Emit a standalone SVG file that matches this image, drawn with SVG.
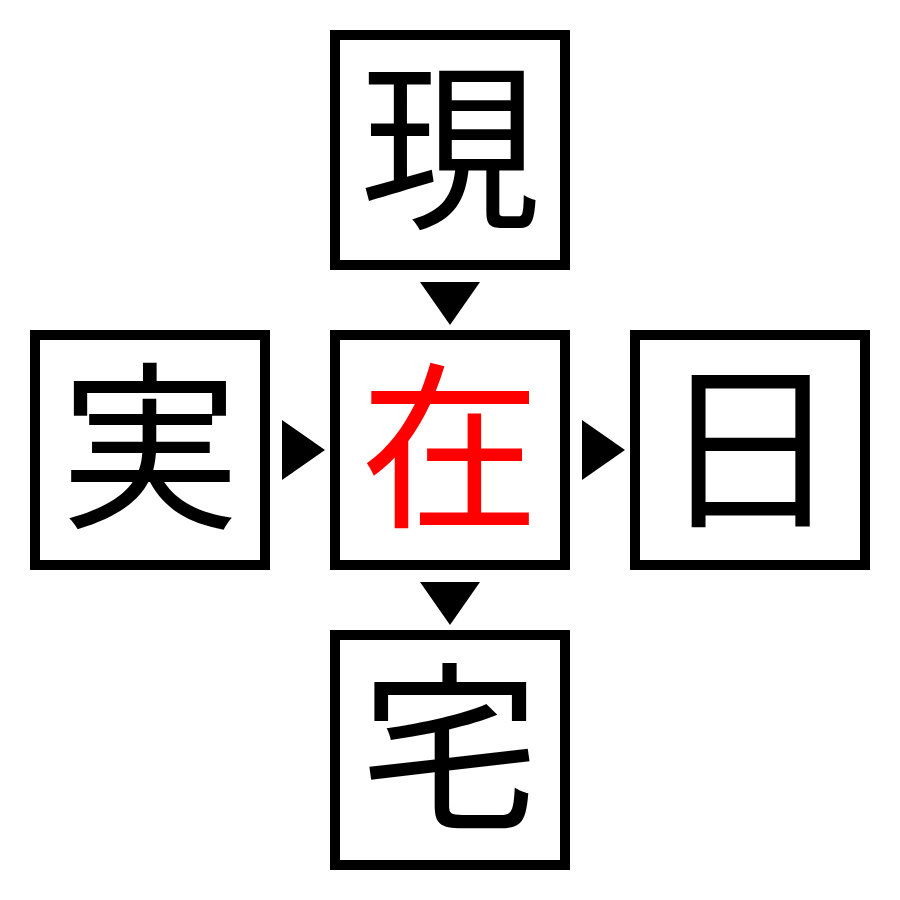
<svg xmlns="http://www.w3.org/2000/svg" width="900" height="900" viewBox="0 0 900 900">
<style>
.box{fill:#fff;stroke:#000;stroke-width:10}
.ch{font-family:"Noto Sans CJK JP","Noto Sans CJK SC",sans-serif;font-size:180px;text-anchor:middle;fill:#000}
.hl{fill:#ff0000}
.arr{fill:#000}
</style>
<rect width="900" height="900" fill="#fff"/>
<g id="node-top"><rect class="box" x="335" y="35" width="230" height="230"/><text class="ch" x="450" y="214">現</text></g>
<g id="node-left"><rect class="box" x="35" y="335" width="230" height="230"/><text class="ch" x="150" y="514">実</text></g>
<g id="node-center"><rect class="box" x="335" y="335" width="230" height="230"/><text class="ch hl" x="450" y="514">在</text></g>
<g id="node-right"><rect class="box" x="635" y="335" width="230" height="230"/><text class="ch" x="750" y="514">日</text></g>
<g id="node-bottom"><rect class="box" x="335" y="635" width="230" height="230"/><text class="ch" x="450" y="814">宅</text></g>
<g id="connectors">
<polygon class="arr" points="420,282 480,282 450,325"/>
<polygon class="arr" points="282,420 325,450 282,480"/>
<polygon class="arr" points="582,420 625,450 582,480"/>
<polygon class="arr" points="420,582 480,582 450,625"/>
</g>
</svg>
